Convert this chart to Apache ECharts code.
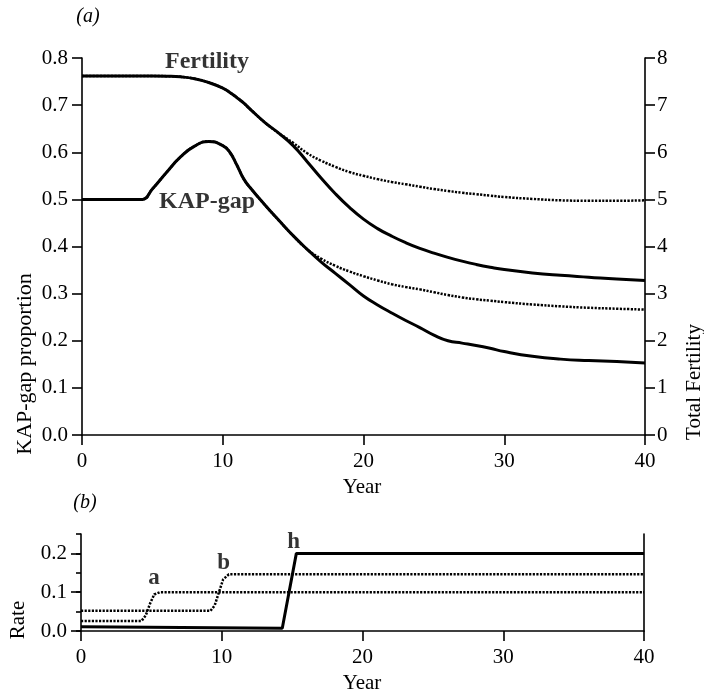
<!DOCTYPE html>
<html>
<head>
<meta charset="utf-8">
<script src="https://cdn.jsdelivr.net/npm/echarts@6/dist/echarts.min.js"></script>
<style>html,body{margin:0;padding:0;background:#fff}#c{width:704px;height:696px}</style>
</head>
<body>
<div id="c"></div>
<script>
// ---- Panel (a) data ----
const years = [0,2,4,4.3,5,6,7,8,9,10,10.5,11,11.5,12,13,14,15,16,17,18,19,20,21,22,23,24,25,26,27,28,29,30,32,34,36,38,40];
const fertilitySolid = [7.62,7.62,7.62,7.62,7.62,7.615,7.6,7.56,7.48,7.36,7.27,7.16,7.04,6.9,6.63,6.4,6.14,5.8,5.45,5.12,4.83,4.58,4.38,4.22,4.08,3.96,3.86,3.77,3.69,3.62,3.56,3.51,3.44,3.39,3.35,3.31,3.28];
const fertilityDotted = [7.62,7.62,7.62,7.62,7.62,7.615,7.6,7.56,7.48,7.36,7.27,7.16,7.04,6.9,6.63,6.4,6.2,5.98,5.82,5.69,5.58,5.5,5.43,5.37,5.32,5.27,5.22,5.18,5.14,5.11,5.08,5.05,5.01,4.98,4.97,4.97,4.98];
const kapSolid = [0.5,0.5,0.5,0.5,0.522,0.557,0.59,0.613,0.623,0.614,0.6,0.573,0.543,0.523,0.488,0.455,0.423,0.394,0.367,0.343,0.319,0.295,0.276,0.259,0.243,0.228,0.212,0.2,0.195,0.19,0.184,0.177,0.167,0.161,0.158,0.156,0.153];
const kapDotted = [0.5,0.5,0.5,0.5,0.522,0.557,0.59,0.613,0.623,0.614,0.6,0.573,0.543,0.523,0.488,0.455,0.423,0.394,0.374,0.359,0.347,0.337,0.328,0.32,0.314,0.309,0.303,0.297,0.292,0.288,0.285,0.282,0.277,0.273,0.27,0.268,0.266];
const topLabels = [{name:'Fertility', x:8.88, y:0.791}, {name:'KAP-gap', x:8.88, y:0.495}];

// ---- Panel (b) data ----
const hYears = [0,14.3,15.3,40];
const hRate  = [0.011,0.007,0.2,0.2];
const aYears = [0,4.3,4.6,4.9,5.2,5.6,40];
const aRate  = [0.026,0.026,0.04,0.07,0.094,0.1,0.1];
const bYears = [0,9.2,9.5,9.8,10.1,10.5,40];
const bRate  = [0.052,0.052,0.066,0.1,0.133,0.146,0.146];
const bottomLabels = [{name:'a', x:5.18, y:0.137}, {name:'b', x:10.14, y:0.175}, {name:'h', x:15.1, y:0.229}];

const FONT = '"Liberation Serif", "Times New Roman", serif';
const pairs = (xs, ys) => xs.map((x, i) => [x, ys[i]]);
const axisLine = {show:true, lineStyle:{color:'#000', width:1.6}};
const tick = {show:true, inside:false, length:10, lineStyle:{color:'#000', width:1.6}};
const lbl = (m, f) => ({color:'#000', fontFamily:FONT, fontSize:21, margin:m, formatter:f});
const dotted = {color:'#000', width:2.5, type:[2.2,1.4]};
const solid = {color:'#000', width:3};

const chart = echarts.init(document.getElementById('c'), null, {renderer:'canvas'});
chart.setOption({
  animation:false,
  backgroundColor:'#fff',
  grid:[
    {left:82, right:59, top:58, height:377},
    {left:81, right:60, top:534, height:97}
  ],
  xAxis:[
    {type:'value', gridIndex:0, min:0, max:40, interval:10, axisLine, axisTick:tick, splitLine:{show:false}, axisLabel:lbl(16)},
    {type:'value', gridIndex:1, min:0, max:40, interval:10, axisLine, axisTick:tick, splitLine:{show:false}, axisLabel:lbl(16)}
  ],
  yAxis:[
    {type:'value', gridIndex:0, position:'left', min:0, max:0.8, interval:0.1, axisLine, axisTick:tick, splitLine:{show:false}, axisLabel:lbl(14, v => v.toFixed(1))},
    {type:'value', gridIndex:0, position:'right', min:0, max:8, interval:1, axisLine, axisTick:tick, splitLine:{show:false}, axisLabel:lbl(12, v => String(Math.round(v)))},
    {type:'value', gridIndex:1, position:'left', min:0, max:0.25, interval:0.1, axisLine, axisTick:tick, splitLine:{show:false}, axisLabel:Object.assign(lbl(14, v => (Math.abs(v*10 - Math.round(v*10)) < 1e-6) ? v.toFixed(1) : ''), {showMaxLabel:false})},
    {type:'value', gridIndex:1, position:'left', min:0, max:0.25, interval:0.05, axisLine:{show:false}, axisTick:{show:true, length:5, lineStyle:{color:'#000', width:1.6}}, splitLine:{show:false}, axisLabel:{show:false}},
    {type:'value', gridIndex:1, position:'right', min:0, max:0.25, axisLine, axisTick:{show:false}, splitLine:{show:false}, axisLabel:{show:false}}
  ],
  series:[
    {type:'line', name:'Fertility (dotted)', xAxisIndex:0, yAxisIndex:1, data:pairs(years, fertilityDotted), showSymbol:false, smooth:0.5, lineStyle:dotted, z:2},
    {type:'line', name:'Fertility', xAxisIndex:0, yAxisIndex:1, data:pairs(years, fertilitySolid), showSymbol:false, smooth:0.5, lineStyle:solid, z:3},
    {type:'line', name:'KAP-gap (dotted)', xAxisIndex:0, yAxisIndex:0, data:pairs(years, kapDotted), showSymbol:false, smooth:0.5, lineStyle:dotted, z:2},
    {type:'line', name:'KAP-gap', xAxisIndex:0, yAxisIndex:0, data:pairs(years, kapSolid), showSymbol:false, smooth:0.5, lineStyle:solid, z:3},
    {type:'scatter', xAxisIndex:0, yAxisIndex:0, symbolSize:0, silent:true,
     data:topLabels.map(d => ({name:d.name, value:[d.x, d.y]})),
     label:{show:true, position:'inside', formatter:'{b}', color:'#000', fontFamily:FONT, fontWeight:'bold', fontSize:24}},
    {type:'line', name:'a', xAxisIndex:1, yAxisIndex:2, data:pairs(aYears, aRate), showSymbol:false, lineStyle:dotted, z:2},
    {type:'line', name:'b', xAxisIndex:1, yAxisIndex:2, data:pairs(bYears, bRate), showSymbol:false, lineStyle:dotted, z:2},
    {type:'line', name:'h', xAxisIndex:1, yAxisIndex:2, data:pairs(hYears, hRate), showSymbol:false, lineStyle:solid, z:3},
    {type:'scatter', xAxisIndex:1, yAxisIndex:2, symbolSize:0, silent:true,
     data:bottomLabels.map(d => ({name:d.name, value:[d.x, d.y]})),
     label:{show:true, position:'inside', formatter:'{b}', color:'#000', fontFamily:FONT, fontWeight:'bold', fontSize:23}}
  ],
  graphic:[
    {type:'text', x:88, y:17, style:{text:'(a)', font:'italic 20px ' + FONT, fill:'#000', align:'center', verticalAlign:'middle'}},
    {type:'text', x:85, y:503, style:{text:'(b)', font:'italic 20px ' + FONT, fill:'#000', align:'center', verticalAlign:'middle'}},
    {type:'text', x:362, y:487, style:{text:'Year', font:'21px ' + FONT, fill:'#000', align:'center', verticalAlign:'middle'}},
    {type:'text', x:362, y:683, style:{text:'Year', font:'21px ' + FONT, fill:'#000', align:'center', verticalAlign:'middle'}},
    {type:'text', x:25, y:364, rotation:Math.PI/2, style:{text:'KAP-gap proportion', font:'22px ' + FONT, fill:'#000', align:'center', verticalAlign:'middle'}},
    {type:'text', x:694, y:382, rotation:Math.PI/2, style:{text:'Total Fertility', font:'21px ' + FONT, fill:'#000', align:'center', verticalAlign:'middle'}},
    {type:'text', x:18, y:620, rotation:Math.PI/2, style:{text:'Rate', font:'21px ' + FONT, fill:'#000', align:'center', verticalAlign:'middle'}}
  ]
});
</script>
</body>
</html>
